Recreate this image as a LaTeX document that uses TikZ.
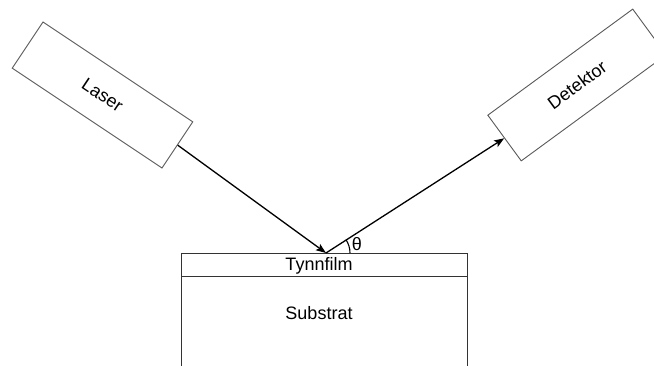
\documentclass[tikz,border=0pt]{standalone}
\usepackage{fontspec}
\setmainfont{Liberation Sans}
\usetikzlibrary{arrows.meta}
\begin{document}
\begin{tikzpicture}[x=1pt,y=-1pt,
  device/.style={draw=black!65, line width=0.9pt, fill=white, inner sep=0pt,
    minimum width=180pt, minimum height=56pt, font=\fontsize{18}{21}\selectfont},
  layer/.style={draw=black!80, line width=1.2pt, inner sep=0pt},
  lbl/.style={font=\fontsize{18}{21}\selectfont, inner sep=0pt},
  beam/.style={line width=1.3pt, -{Stealth[length=10pt,width=7.5pt,inset=2pt]}}]
\useasboundingbox (0,0) rectangle (654,366);
\clip (0,0) rectangle (654,366);
% sample: thin film on top of the substrate
\node[layer, minimum width=286pt, minimum height=130pt, anchor=north west] (substrate) at (181,276) {};
\node[layer, minimum width=286pt, minimum height=23pt, anchor=north west] (film) at (181,253) {};
\node[lbl] (filmtext) at (319,265.5) {Tynnfilm};
\node[lbl] (subtext) at (319,313) {Substrat};
% source and detector
\node[device, rotate=-33.7, minimum width=180pt, minimum height=55.5pt] (laser) at (102.5,95) {Laser};
\node[device, rotate=36.2, minimum width=179.6pt, minimum height=56.6pt] (det) at (577,85) {Detektor};
% beam path
\coordinate (hit) at (326,253);
\draw[beam] (laser.east) -- (hit);
\draw[beam] (hit) -- (det.west);
% angle of reflection
\draw[line width=1.1pt] ([xshift=24pt]hit) arc[start angle=0, end angle=34, radius=24pt];
\node[lbl] (theta) at (357,244) {θ};
\end{tikzpicture}
\end{document}
